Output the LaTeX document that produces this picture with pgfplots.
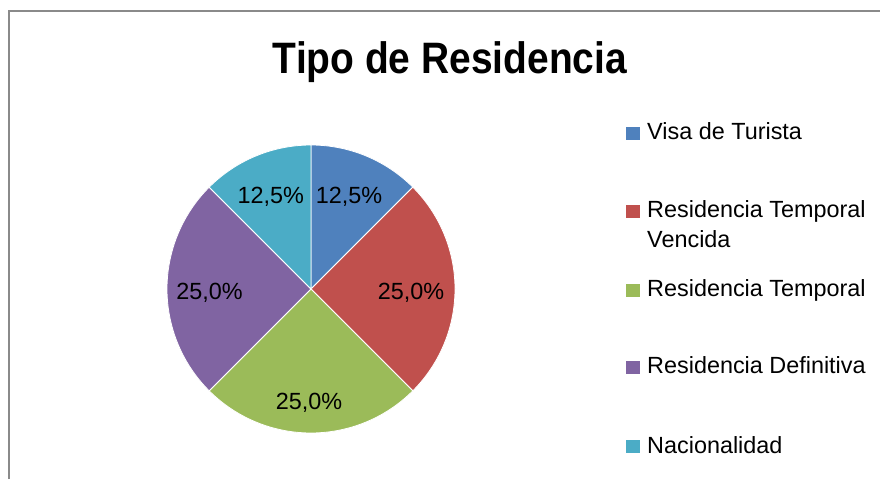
\documentclass[border=0pt]{standalone}
\usepackage{pgfplots}
\pgfplotsset{compat=1.18}
\usepackage{fontspec}
\setmainfont{Liberation Sans}
\newfontfamily\titlefont[FakeStretch=0.885]{Liberation Sans}
\definecolor{bluePie}{HTML}{4F81BD}
\definecolor{redPie}{HTML}{C0504D}
\definecolor{greenPie}{HTML}{9BBB59}
\definecolor{purplePie}{HTML}{8064A2}
\definecolor{tealPie}{HTML}{4BACC6}
\definecolor{frameGray}{HTML}{8A8A8A}
\newcommand\lblfont{\fontsize{23.4}{30}\selectfont}
\begin{document}
\begin{tikzpicture}[x=1pt,y=1pt]
\path[use as bounding box] (0,0) rectangle (880,479);
\draw[frameGray, line width=2pt] (9,0) -- (9,468) -- (880,468);
% title
\node[anchor=base, inner sep=0pt, font=\titlefont\fontsize{44}{50}\selectfont\bfseries] at (450,405) {Tipo de Residencia};
% pie
\begin{axis}[
  at={(311pt,190pt)}, anchor=origin,
  x=144pt, y=144pt,
  xmin=-1.05, xmax=1.05, ymin=-1.05, ymax=1.05,
  hide axis, clip=false,
]
\xdef\startang{90}
\foreach \v/\c/\lx/\ly in {12.5/bluePie/0.264/0.653, 25/redPie/0.694/-0.019, 25/greenPie/-0.014/-0.783, 25/purplePie/-0.705/-0.019, 12.5/tealPie/-0.279/0.653}{
  \pgfmathsetmacro\endang{\startang-3.6*\v}
  \edef\temp{\noexpand\fill[\c, draw=white, line width=0.8pt, line join=round] (axis cs:0,0) -- (axis cs:{cos(\startang)},{sin(\startang)}) arc[start angle=\startang, end angle=\endang, radius=144pt] -- cycle;
    \noexpand\node[inner sep=0pt, text depth=0pt, font=\noexpand\lblfont] at (axis cs:\lx,\ly) {\noexpand\pgfmathprintnumber[fixed, fixed zerofill, precision=1, use comma, assume math mode=true]{\v}\noexpand\%};}
  \temp
  \xdef\startang{\endang}
}
\end{axis}
% legend
\begin{scope}[every node/.style={anchor=base west, inner sep=0pt, font=\lblfont}]
\fill[bluePie] (626,339) rectangle +(14,13);
\node at (647,339) {Visa de Turista};
\fill[redPie] (626,261) rectangle +(14,13);
\node at (647,261) {Residencia Temporal};
\node at (647,231) {Vencida};
\fill[greenPie] (626,182) rectangle +(14,13);
\node at (647,182) {Residencia Temporal};
\fill[purplePie] (626,105) rectangle +(14,13);
\node at (647,105) {Residencia Definitiva};
\fill[tealPie] (626,26) rectangle +(14,13);
\node at (647,26) {Nacionalidad};
\end{scope}
\end{tikzpicture}
\end{document}
